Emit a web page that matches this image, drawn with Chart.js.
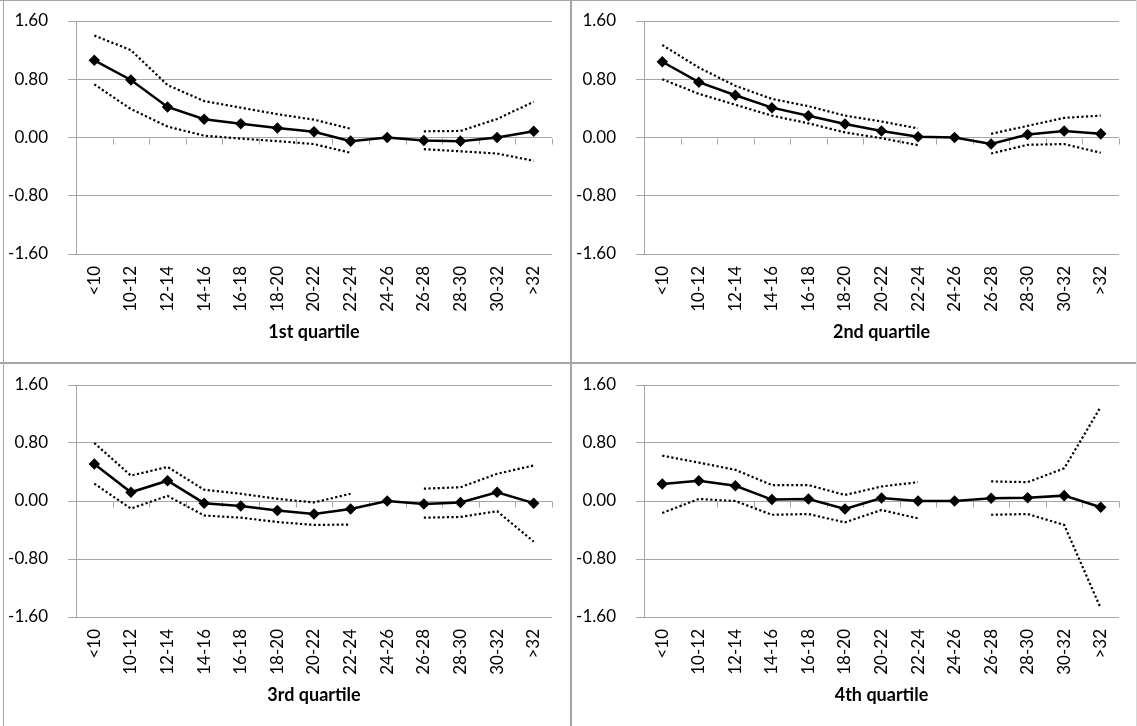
<!DOCTYPE html>
<html>
<head>
<meta charset="utf-8">
<script src="https://cdn.jsdelivr.net/npm/chart.js@4.4.1/dist/chart.umd.min.js"></script>
<style>
    body { margin: 0; background: #ffffff; }
    #wrap { position: relative; width: 1137px; height: 726px; overflow: hidden; background: #ffffff; }
    canvas { position: absolute; }
    .linha { position: absolute; background: #a6a6a6; }
</style>
</head>
<body>
<div id="wrap">
    <canvas id="c1" width="571" height="363" style="left:0;top:0"></canvas>
    <canvas id="c2" width="566" height="363" style="left:571px;top:0"></canvas>
    <canvas id="c3" width="571" height="363" style="left:0;top:363px"></canvas>
    <canvas id="c4" width="566" height="363" style="left:571px;top:363px"></canvas>
    <div class="linha" style="left:3px;top:0;width:1px;height:726px"></div>
    <div class="linha" style="left:0;top:0;width:1137px;height:1px"></div>
    <div class="linha" style="left:570px;top:0;width:2px;height:726px"></div>
    <div class="linha" style="left:0;top:362px;width:1137px;height:2px"></div>
    <div class="linha" style="left:1136px;top:0;width:1px;height:726px;background:#d9d9d9"></div>
</div>
<script>
// categories and axis ticks
const categorias = ['<10', '10-12', '12-14', '14-16', '16-18', '18-20', '20-22', '22-24', '24-26', '26-28', '28-30', '30-32', '>32'];
const yTicks = [-1.6, -0.8, 0, 0.8, 1.6];

// 1st quartile
const q1Est = [1.06, 0.79, 0.42, 0.25, 0.19, 0.13, 0.08, -0.05, 0, -0.04, -0.05, 0.00, 0.085];
const q1Sup = [1.40, 1.20, 0.72, 0.50, 0.41, 0.32, 0.245, 0.12, null, 0.085, 0.09, 0.255, 0.49];
const q1Inf = [0.73, 0.39, 0.15, 0.025, -0.015, -0.05, -0.09, -0.21, null, -0.16, -0.19, -0.22, -0.32];

// 2nd quartile
const q2Est = [1.04, 0.76, 0.58, 0.41, 0.30, 0.185, 0.09, 0.01, 0, -0.09, 0.04, 0.09, 0.05];
const q2Sup = [1.27, 0.96, 0.71, 0.53, 0.43, 0.30, 0.22, 0.125, null, 0.05, 0.16, 0.27, 0.30];
const q2Inf = [0.80, 0.60, 0.45, 0.30, 0.195, 0.07, -0.01, -0.105, null, -0.22, -0.10, -0.09, -0.21];

// 3rd quartile
const q3Est = [0.51, 0.12, 0.28, -0.03, -0.07, -0.13, -0.18, -0.11, 0, -0.04, -0.02, 0.12, -0.03];
const q3Sup = [0.80, 0.35, 0.47, 0.155, 0.10, 0.03, -0.02, 0.10, null, 0.17, 0.19, 0.375, 0.49];
const q3Inf = [0.24, -0.105, 0.07, -0.20, -0.23, -0.29, -0.33, -0.325, null, -0.23, -0.22, -0.14, -0.56];

// 4th quartile
const q4Est = [0.235, 0.28, 0.21, 0.02, 0.028, -0.11, 0.04, 0, 0, 0.037, 0.046, 0.074, -0.087];
const q4Sup = [0.625, 0.53, 0.43, 0.22, 0.22, 0.083, 0.20, 0.26, null, 0.27, 0.26, 0.45, 1.30];
const q4Inf = [-0.165, 0.028, 0.0, -0.19, -0.18, -0.295, -0.124, -0.24, null, -0.19, -0.18, -0.33, -1.48];

const titulos = ['1st quartile', '2nd quartile', '3rd quartile', '4th quartile'];

const cinza = '#a6a6a6';
const fonte = 'Lato, "Open Sans", sans-serif';

// tick marks on the zero line, between categories (like the Excel axis)
const eixoZero = {
    id: 'eixoZero',
    beforeDatasetsDraw(chart) {
        const x = chart.scales.x;
        const y = chart.scales.y;
        const ctx = chart.ctx;
        const y0 = Math.round(y.getPixelForValue(0)) + 0.5;
        ctx.save();
        ctx.strokeStyle = cinza;
        ctx.lineWidth = 1;
        ctx.beginPath();
        for (let i = 1; i <= categorias.length; i++) {
            const px = Math.round(x.getPixelForValue(i - 0.5)) + 0.5;
            ctx.moveTo(px, y0);
            ctx.lineTo(px, y0 + 6);
        }
        ctx.stroke();
        ctx.restore();
    }
};

function criarGrafico(id, est, sup, inf, titulo, larguraY, topo, direita) {
    const ctx = document.getElementById(id).getContext('2d');
    const pontilhado = {
        borderColor: '#000',
        borderWidth: 2.2,
        borderDash: [2.2, 2.4],
        pointRadius: 0,
        spanGaps: false,
        tension: 0
    };
    return new Chart(ctx, {
        type: 'line',
        data: {
            labels: categorias,
            datasets: [
                Object.assign({ label: 'upper', data: sup }, pontilhado),
                Object.assign({ label: 'lower', data: inf }, pontilhado),
                {
                    label: 'estimate',
                    data: est,
                    borderColor: '#000',
                    backgroundColor: '#000',
                    borderWidth: 2.5,
                    pointStyle: 'rectRot',
                    pointRadius: 4,
                    tension: 0
                }
            ]
        },
        options: {
            responsive: false,
            animation: false,
            devicePixelRatio: 1,
            layout: { padding: { left: 0, right: direita, top: topo, bottom: 0 } },
            plugins: {
                legend: { display: false },
                tooltip: { enabled: false }
            },
            scales: {
                x: {
                    offset: true,
                    grid: { display: false, drawTicks: false },
                    border: { display: false },
                    ticks: {
                        minRotation: 90,
                        maxRotation: 90,
                        autoSkip: false,
                        padding: 12,
                        color: '#000',
                        font: { family: fonte, size: 17 }
                    },
                    title: {
                        display: true,
                        text: titulo,
                        color: '#000',
                        padding: { top: 0, bottom: 20 },
                        font: { family: fonte, size: 18, weight: 'bold' }
                    },
                    afterFit(scale) { scale.height = 109; }
                },
                y: {
                    min: -1.6,
                    max: 1.6,
                    afterBuildTicks(scale) {
                        scale.ticks = yTicks.map(v => ({ value: v }));
                    },
                    grid: { color: cinza, lineWidth: 1, tickLength: 8 },
                    border: { display: true, color: cinza, width: 1 },
                    ticks: {
                        padding: 20,
                        color: '#000',
                        font: { family: fonte, size: 17 },
                        callback: (v) => (Math.abs(v) < 1e-9 ? 0 : v).toFixed(2)
                    },
                    afterFit(scale) {
                        scale.width = larguraY;
                        // the label padding should not push the plot area down
                        scale.paddingTop = 0;
                        scale.paddingBottom = 0;
                    }
                }
            }
        },
        plugins: [eixoZero]
    });
}

document.addEventListener('DOMContentLoaded', () => {
    criarGrafico('c1', q1Est, q1Sup, q1Inf, titulos[0], 76, 21, 19);
    criarGrafico('c2', q2Est, q2Sup, q2Inf, titulos[1], 73, 21, 18);
    criarGrafico('c3', q3Est, q3Sup, q3Inf, titulos[2], 76, 22, 19);
    criarGrafico('c4', q4Est, q4Sup, q4Inf, titulos[3], 73, 22, 18);
});
</script>
</body>
</html>
